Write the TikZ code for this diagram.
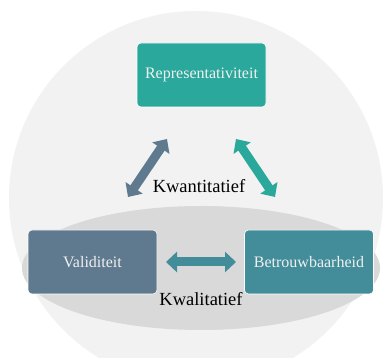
\documentclass[tikz,border=0pt]{standalone}
\usepackage{fontspec}
\setmainfont{Liberation Serif}
\usetikzlibrary{arrows.meta}
\definecolor{bgc}{HTML}{F2F2F2}
\definecolor{ellc}{HTML}{D9D9D9}
\definecolor{tealc}{HTML}{2BA89C}
\definecolor{slatec}{HTML}{5F7A8E}
\definecolor{bluec}{HTML}{428D99}
\tikzset{
  box/.style={draw=white, line width=0.6pt, rounded corners=4pt, minimum width=129pt, minimum height=64pt, inner sep=0pt, text=white!94!black, font=\fontsize{16}{18}\selectfont},
  dbl/.style={line width=9pt, {Triangle[width=20pt,length=11pt]}-{Triangle[width=20pt,length=11pt]}},
  lbl/.style={font=\fontsize{18.5}{20}\selectfont, text=black, inner sep=1pt}
}
\begin{document}
\begin{tikzpicture}[x=1pt,y=-1pt]
\useasboundingbox (0,0) rectangle (384,358);
\fill[white] (0,0) rectangle (384,358);
\begin{scope}
\clip (0,0) rectangle (384,358);
\fill[bgc] (196,198) circle (187);
\fill[ellc] (201,268) ellipse [x radius=179, y radius=62];
\end{scope}
\node[box, fill=tealc] (rep) at (201.5,75) {Representativiteit};
\node[box, fill=slatec] (val) at (92.5,262) {Validiteit};
\node[box, fill=bluec] (bet) at (309,262) {Betrouwbaarheid};
\coordinate (l1) at (128,197);
\coordinate (l2) at (167,139);
\coordinate (r1) at (236,139);
\coordinate (r2) at (275,197);
\coordinate (h1) at (166,262);
\coordinate (h2) at (236,262);
\draw[dbl, slatec] (l1) -- (l2);
\draw[dbl, tealc] (r1) -- (r2);
\draw[dbl, bluec] (h1) -- (h2);
\node[lbl] (kwan) at (199,186) {Kwantitatief};
\node[lbl] (kwal) at (201,299) {Kwalitatief};
\end{tikzpicture}
\end{document}
